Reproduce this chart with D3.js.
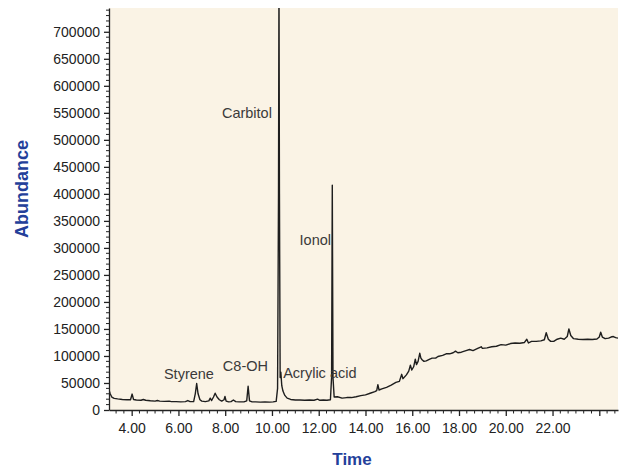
<!DOCTYPE html>
<html>
<head>
<meta charset="utf-8">
<script src="https://cdn.jsdelivr.net/npm/d3@7"></script>
<style>
  html, body { margin: 0; padding: 0; background: #ffffff; }
  svg { display: block; font-family: "Liberation Sans", Arial, Helvetica, sans-serif; }
</style>
</head>
<body>
<svg id="chart" width="620" height="468"></svg>
<script>
// ---- Data ----
const times = [
  3.03, 3.08, 3.15, 3.25, 3.4, 3.6, 3.8, 3.95, 4.02, 4.08, 4.2, 4.4, 4.5, 4.6, 4.8,
  5.0, 5.1, 5.2, 5.4, 5.6, 5.7, 5.9, 6.1, 6.3, 6.4, 6.5, 6.65, 6.72, 6.78, 6.84, 6.92,
  7.0, 7.15, 7.3, 7.36, 7.42, 7.5, 7.57, 7.65, 7.75, 7.85, 7.95, 7.99, 8.04, 8.15,
  8.25, 8.35, 8.45, 8.6, 8.8, 8.92, 8.98, 9.04, 9.15, 9.3, 9.5, 9.7, 9.9, 10.05,
  10.18, 10.24, 10.28, 10.30, 10.32, 10.35, 10.38, 10.42, 10.47, 10.55, 10.65, 10.8,
  11.0, 11.2, 11.4, 11.6, 11.8, 11.95, 12.05, 12.2, 12.35, 12.5, 12.55, 12.58, 12.61,
  12.66, 12.8, 13.0, 13.2, 13.4, 13.6, 13.8, 14.0, 14.2, 14.4, 14.48, 14.53, 14.58,
  14.7, 14.9, 15.1, 15.3, 15.45, 15.55, 15.6, 15.75, 15.85, 15.92, 15.98, 16.06,
  16.13, 16.18, 16.25, 16.32, 16.37, 16.42, 16.5, 16.6, 16.75, 16.85, 17.0, 17.1,
  17.3, 17.45, 17.6, 17.75, 17.85, 17.95, 18.1, 18.3, 18.45, 18.6, 18.8, 18.95, 19.0,
  19.2, 19.4, 19.6, 19.8, 20.0, 20.2, 20.4, 20.6, 20.8, 20.9, 20.97, 21.1, 21.3, 21.5,
  21.65, 21.73, 21.82, 21.92, 22.05, 22.2, 22.35, 22.5, 22.63, 22.7, 22.78, 22.9,
  23.1, 23.3, 23.5, 23.7, 23.9, 24.0, 24.06, 24.13, 24.25, 24.4, 24.5, 24.6, 24.7, 24.8
];
const abundance = [
  37000, 30000, 24000, 21500, 20500, 19500, 19000, 19000, 29500, 19500, 18500, 18000, 19500, 18000, 17000,
  16500, 17500, 16500, 16000, 16500, 15500, 15500, 15000, 15500, 17500, 15500, 15500, 30000, 49000, 30000, 19000,
  16500, 15500, 17000, 22000, 17500, 24000, 31000, 24000, 19000, 16500, 19000, 25000, 16500, 15000,
  15500, 18500, 15500, 15000, 15000, 17000, 44000, 17000, 15000, 15000, 14500, 15000, 14500, 15000,
  16000, 40000, 400000, 800000, 400000, 60000, 70000, 45000, 35000, 27000, 22000, 19500,
  18500, 18500, 18000, 18500, 18000, 20000, 18000, 18500, 18000, 19000, 60000, 416000, 60000,
  24000, 24500, 22000, 23000, 23000, 24500, 26500, 28000, 31000, 34000, 36000, 47000, 37000,
  39000, 42000, 46000, 51000, 53000, 66000, 58000, 65000, 72000, 83000, 74000, 80000,
  94000, 84000, 90000, 105000, 96000, 93000, 90000, 91000, 94000, 96000, 96000, 99000,
  101000, 104000, 104000, 106000, 109000, 106000, 107000, 110000, 112000, 110000, 114000, 117000, 114000,
  115000, 117000, 118000, 121000, 120000, 123000, 124000, 123500, 125000, 131000, 124000, 127000, 127000, 128000,
  130000, 143000, 131000, 127000, 127000, 131000, 133000, 131000, 136000, 150000, 138000, 132000,
  131000, 130500, 131000, 130500, 131500, 135000, 144000, 135000, 132000, 133000, 135000, 136000, 134000, 133000
];
const xTickValues = [4, 6, 8, 10, 12, 14, 16, 18, 20, 22, 24];
const xTickLabels = ["4.00", "6.00", "8.00", "10.00", "12.00", "14.00", "16.00", "18.00", "20.00", "22.00", ""];
const yTickValues = [0, 50000, 100000, 150000, 200000, 250000, 300000, 350000, 400000, 450000, 500000, 550000, 600000, 650000, 700000];
const peakNames = ["Carbitol", "Ionol", "Styrene", "C8-OH", "Acrylic acid"];
const peakLabelTimes = [7.86, 11.18, 5.38, 7.9, 10.48];
const peakLabelValues = [550000, 315000, 66500, 81500, 68500];

// ---- Layout ----
const svg = d3.select("#chart");
const plotL = 109, plotR = 618, plotT = 8, plotB = 410;
const x = d3.scaleLinear().domain([3.03, 24.8]).range([plotL, plotR]);
const y = d3.scaleLinear().domain([0, 744000]).range([plotB, plotT]);

svg.append("rect")
  .attr("x", plotL).attr("y", plotT)
  .attr("width", plotR - plotL).attr("height", plotB - plotT)
  .attr("fill", "#faf3e5");

svg.append("clipPath").attr("id", "clip")
  .append("rect").attr("x", plotL).attr("y", plotT)
  .attr("width", plotR - plotL).attr("height", plotB - plotT);

const data = times.map((t, i) => [t, abundance[i]]);
svg.append("path")
  .datum(data)
  .attr("clip-path", "url(#clip)")
  .attr("fill", "none")
  .attr("stroke", "#1e1e1e")
  .attr("stroke-width", 1.4)
  .attr("stroke-linejoin", "round")
  .attr("d", d3.line().x(d => x(d[0])).y(d => y(d[1])));

// minor ticks
const xMinor = d3.range(3.333, 24.8, 1 / 3).filter(v => Math.abs(v / 2 - Math.round(v / 2)) > 0.05);
const yMinor = d3.range(10000, 744000, 10000).filter(v => v % 50000 !== 0);

// X axis
const xAxis = svg.append("g").attr("transform", `translate(0,${plotB})`);
xAxis.selectAll("line.minor").data(xMinor).enter().append("line")
  .attr("x1", d => x(d)).attr("x2", d => x(d)).attr("y1", 0).attr("y2", 3.5)
  .attr("stroke", "#222").attr("stroke-width", 1);
xAxis.call(d3.axisBottom(x).tickValues(xTickValues)
    .tickFormat((d, i) => xTickLabels[i]).tickSize(6).tickPadding(7).tickSizeOuter(0))
  .call(g => g.select(".domain").attr("stroke", "#222").attr("stroke-width", 1.3))
  .call(g => g.selectAll(".tick line").attr("stroke", "#222").attr("stroke-width", 1.3))
  .call(g => g.selectAll(".tick text").attr("fill", "#222")
    .style("font-size", "14px").style("font-family", "'Liberation Sans', Arial, sans-serif"));

// Y axis
const yAxis = svg.append("g").attr("transform", `translate(${plotL},0)`);
yAxis.selectAll("line.minor").data(yMinor).enter().append("line")
  .attr("x1", -3).attr("x2", 0).attr("y1", d => y(d)).attr("y2", d => y(d))
  .attr("stroke", "#222").attr("stroke-width", 1);
yAxis.call(d3.axisLeft(y).tickValues(yTickValues).tickFormat(d3.format("d"))
    .tickSize(5).tickPadding(4).tickSizeOuter(0))
  .call(g => g.select(".domain").attr("stroke", "#222").attr("stroke-width", 1.3))
  .call(g => g.selectAll(".tick line").attr("stroke", "#222").attr("stroke-width", 1.3))
  .call(g => g.selectAll(".tick text").attr("fill", "#222")
    .style("font-size", "14px").style("font-family", "'Liberation Sans', Arial, sans-serif"));

// Peak labels
svg.selectAll("text.peak").data(peakNames).enter().append("text")
  .attr("class", "peak")
  .attr("x", (d, i) => x(peakLabelTimes[i]))
  .attr("y", (d, i) => y(peakLabelValues[i]))
  .attr("dy", "0.35em")
  .attr("fill", "#3a3a3a")
  .style("font-size", "14.5px")
  .text(d => d);

// Axis titles
svg.append("text")
  .attr("transform", `translate(28,${(plotT + plotB) / 2 - 20}) rotate(-90)`)
  .attr("text-anchor", "middle")
  .attr("fill", "#23409a")
  .style("font-size", "18px").style("font-weight", "bold")
  .text("Abundance");
svg.append("text")
  .attr("x", 352).attr("y", 465)
  .attr("text-anchor", "middle")
  .attr("fill", "#23409a")
  .style("font-size", "17px").style("font-weight", "bold")
  .text("Time");
</script>
</body>
</html>
